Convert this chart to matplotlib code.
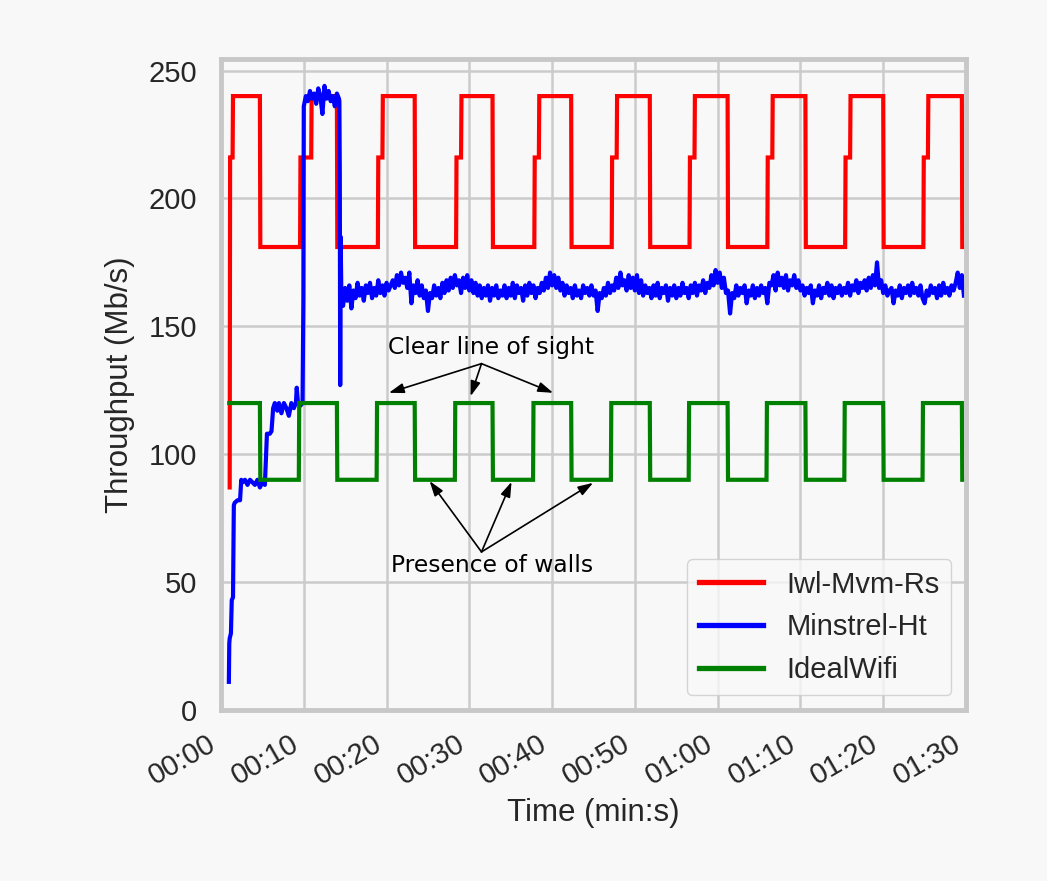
import numpy as np
import matplotlib
matplotlib.use("Agg")
import matplotlib.pyplot as plt

plt.rcParams['font.family'] = ['Liberation Sans', 'DejaVu Sans']

# x tick labels (every 10 s)
tick_secs = [0, 10, 20, 30, 40, 50, 60, 70, 80, 90]
tick_labels = ["00:00", "00:10", "00:20", "00:30", "00:40",
               "00:50", "01:00", "01:10", "01:20", "01:30"]

# IdealWifi: square wave between 120 (line of sight) and 90 (walls)
green_start = 1.0
green_fall = [4.7, 14.0, 23.4, 32.8, 42.3, 51.8, 61.2, 70.6, 80.0, 89.5]
green_rise = [9.4, 18.8, 28.25, 37.7, 47.1, 56.5, 65.9, 75.3, 84.75]
green_hi, green_lo = 120, 90

# Iwl-Mvm-Rs: 240 / ~181 with a short step at 216 on every rise
red_fall = [4.7, 14.0, 23.4, 32.8, 42.3, 51.8, 61.2, 70.6, 80.0, 89.5]
red_rise = [9.55, 18.95, 28.4, 37.85, 47.2, 56.6, 66.0, 75.4, 84.85]
red_step_end = [10.9, 19.5, 29.0, 38.4, 47.8, 57.2, 66.6, 76.0, 85.4]
red_hi, red_mid, red_lo = 240, 216, 181

# Minstrel-Ht: ramp-up, peak, then noisy plateau
blue_t_start = [0.95, 1.0, 1.05, 1.2, 1.3, 1.45, 1.55, 1.65, 2.0, 2.3, 2.45,
                2.6, 2.9, 3.2, 3.5, 3.8, 4.1, 4.4, 4.7, 5.0, 5.3, 5.45, 5.55,
                5.9, 6.1, 6.3, 6.5, 6.8, 7.0, 7.3, 7.6, 7.9, 8.2, 8.5, 8.8,
                9.05, 9.15, 9.3, 9.6, 9.85, 9.95,
                10.0, 10.25, 10.5, 10.75, 11.0, 11.25, 11.5, 11.75, 12.0,
                12.25, 12.5, 12.75, 13.0, 13.25, 13.5, 13.75, 14.0, 14.25,
                14.3, 14.35, 14.4, 14.45, 14.55]
blue_v_start = [11, 26, 28, 30, 43, 44, 80, 81, 82, 82, 90,
                89, 90, 88, 90, 89, 88, 90, 87, 89, 88, 100, 108,
                108, 109, 118, 120, 117, 120, 116, 120, 118, 115, 120, 118,
                120, 126, 120, 119, 120, 160,
                236, 240, 238, 242, 239, 241, 237, 243, 240,
                233, 244, 239, 242, 238, 240, 236, 241, 239,
                238, 210, 127, 185, 160]
blue_noise_t0 = 14.75
blue_noise_dt = 0.25
blue_noise = [
    158, 165, 160, 166, 157, 164, 161, 167, 162, 165, 160, 166, 163, 167, 161, 165, 162, 168, 163, 166,
    162, 167, 164, 166, 168, 165, 170, 166, 171, 167, 169, 165, 171, 159, 166, 163, 168, 162, 166, 161,
    164, 156, 163, 161, 166, 162, 165, 161, 167, 163, 168, 164, 169, 165, 170, 166, 168, 163, 169, 165,
    170, 164, 168, 163, 167, 162, 166, 161, 165, 162, 166, 160, 165, 162, 166, 161, 164, 162, 166, 161,
    165, 162, 167, 161, 166, 163, 165, 160, 166, 162, 167, 163, 166, 161, 165, 163, 167, 164, 169, 165,
    171, 166, 170, 165, 169, 164, 167, 162, 166, 163, 165, 161, 166, 162, 164, 161, 166, 163, 165, 162,
    166, 162, 164, 156, 163, 161, 165, 162, 167, 163, 166, 164, 169, 165, 171, 166, 168, 164, 170, 165,
    169, 164, 170, 163, 168, 162, 166, 163, 165, 161, 166, 162, 167, 161, 165, 163, 166, 160, 165, 162,
    166, 161, 165, 162, 167, 163, 165, 161, 166, 163, 167, 162, 166, 164, 168, 163, 167, 165, 170, 166,
    172, 167, 171, 165, 169, 163, 164, 155, 163, 161, 166, 162, 165, 163, 166, 159, 164, 162, 166, 161,
    165, 162, 166, 163, 165, 159, 167, 166, 170, 164, 171, 166, 169, 165, 170, 164, 168, 166, 170, 165,
    168, 164, 166, 162, 165, 163, 166, 159, 164, 162, 166, 161, 165, 163, 167, 162, 166, 161, 165, 163,
    166, 162, 165, 163, 167, 162, 166, 164, 168, 163, 167, 165, 168, 164, 169, 165, 170, 166, 175, 165,
    168, 163, 166, 162, 164, 165, 159, 164, 162, 166, 161, 165, 163, 166, 162, 167, 163, 165, 162, 166,
    161, 159, 164, 162, 166, 163, 165, 161, 166, 162, 167, 163, 165, 162, 166, 164, 167, 171, 165, 170,
    162]

# annotation anchor points (time s, Mb/s)
los_text = (32.6, 141.8)
los_origin = (31.47, 135.4)
los_targets = [(20.28, 124.0), (30.15, 122.7), (40.12, 124.0)]
walls_text = (32.8, 56.6)
walls_origin = (31.47, 61.8)
walls_targets = [(25.2, 89.5), (35.1, 89.2), (44.95, 88.8)]

# build step lines
tr = 0.05
green_t = [green_start]
green_v = [green_hi]
for i, f in enumerate(green_fall):
    green_t += [f, f + tr]
    green_v += [green_hi, green_lo]
    if i < len(green_rise):
        r = green_rise[i]
        green_t += [r, r + tr]
        green_v += [green_lo, green_hi]
green_t.append(90)
green_v.append(green_lo)

red_t = [1.05, 1.1, 1.4, 1.45]
red_v = [87, red_mid, red_mid, red_hi]
for i, f in enumerate(red_fall):
    red_t += [f, f + tr]
    red_v += [red_hi, red_lo]
    if i < len(red_rise):
        r, s = red_rise[i], red_step_end[i]
        red_t += [r, r + tr, s, s + tr]
        red_v += [red_lo, red_mid, red_mid, red_hi]
red_t.append(90)
red_v.append(red_lo)

blue_t = blue_t_start + list(blue_noise_t0 + blue_noise_dt * np.arange(len(blue_noise)))
blue_v = blue_v_start + blue_noise

bg = '#f8f8f8'
grid_c = '#cbcbcb'
text_c = '#262626'

fig = plt.figure(figsize=(10.47, 8.81), dpi=100, facecolor=bg)
ax = fig.add_axes([221 / 1047, 1 - 710 / 881, (966 - 221) / 1047, (710 - 59) / 881])
ax.set_facecolor(bg)

lw = 3.0
ax.plot(red_t, red_v, color='#ff0000', lw=lw, label='Iwl-Mvm-Rs', solid_joinstyle='miter')
ax.plot(blue_t, blue_v, color='#0000ff', lw=lw, label='Minstrel-Ht')
ax.plot(green_t, green_v, color='#008000', lw=lw, label='IdealWifi', solid_joinstyle='miter')

ax.set_xlim(0, 90)
ax.set_ylim(0, 254.5)
ax.set_xticks(tick_secs)
ax.set_xticklabels(tick_labels, rotation=30, ha='right')
ax.set_yticks([0, 50, 100, 150, 200, 250])

ax.grid(True, color=grid_c, lw=1.8)
ax.set_axisbelow(True)
for sp in ax.spines.values():
    sp.set_color('#c8c8c8')
    sp.set_linewidth(3.5)
ax.tick_params(length=0, labelsize=21, labelcolor=text_c)
ax.tick_params(axis='y', pad=17)
ax.tick_params(axis='x', pad=14)

ax.set_xlabel('Time (min:s)', fontsize=22.5, color=text_c, labelpad=6)
ax.set_ylabel('Throughput (Mb/s)', fontsize=22.5, color=text_c, labelpad=10)

arrow = dict(arrowstyle='-|>,head_length=0.45,head_width=0.15', color='black',
             lw=1.2, mutation_scale=20, shrinkA=0, shrinkB=0)
ax.text(*los_text, 'Clear line of sight', ha='center', va='center',
        fontsize=16.8, family=['DejaVu Sans'], color='black')
for tg in los_targets:
    ax.annotate('', xy=tg, xytext=los_origin, arrowprops=arrow)
ax.text(*walls_text, 'Presence of walls', ha='center', va='center',
        fontsize=16.8, family=['DejaVu Sans'], color='black')
for tg in walls_targets:
    ax.annotate('', xy=tg, xytext=walls_origin, arrowprops=arrow)

leg = ax.legend(loc='lower right', fontsize=21, handlelength=2.2,
                facecolor=bg, edgecolor='#cccccc', framealpha=0.8)
for line in leg.get_lines():
    line.set_linewidth(3.8)
for t in leg.get_texts():
    t.set_color(text_c)

fig.savefig('out.png', dpi=100, facecolor=bg)
